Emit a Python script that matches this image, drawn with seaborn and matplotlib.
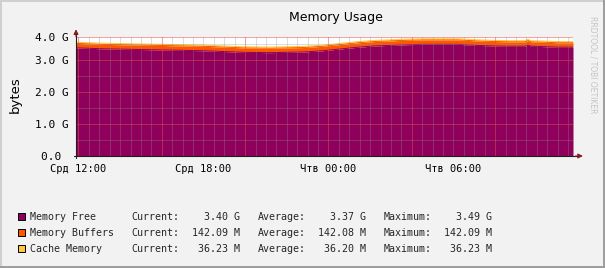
import numpy as np
import pandas as pd
import matplotlib
matplotlib.use("Agg")
import matplotlib.pyplot as plt
import seaborn as sns
from matplotlib.patches import Rectangle

# ---------------- data ----------------
hours = [-0.12, 1.18, 2.81, 4.39, 5.98, 6.79, 7.90, 9.19, 10.78, 11.74, 12.65,
         13.42, 14.24, 15.05, 15.82, 16.63, 18.22, 19.04, 19.85, 20.62, 21.43,
         21.58, 21.72, 22.25, 23.02, 23.74]
free_g = [3.38, 3.35, 3.33, 3.31, 3.29, 3.27, 3.24, 3.23, 3.25, 3.29, 3.35,
          3.40, 3.44, 3.46, 3.48, 3.49, 3.49, 3.46, 3.44, 3.43, 3.43,
          3.47, 3.43, 3.42, 3.40, 3.40]
buffers_m = [142.07, 142.07, 142.07, 142.07, 142.07, 142.08, 142.08, 142.08, 142.08, 142.08, 142.08,
             142.08, 142.08, 142.08, 142.08, 142.08, 142.08, 142.09, 142.09, 142.09, 142.09,
             142.09, 142.09, 142.09, 142.09, 142.09]
cache_m = [36.17, 36.17, 36.18, 36.18, 36.18, 36.19, 36.19, 36.19, 36.19, 36.20, 36.20,
           36.20, 36.20, 36.20, 36.20, 36.21, 36.21, 36.21, 36.21, 36.22, 36.22,
           36.22, 36.22, 36.23, 36.23, 36.23]

series_names = ["Memory Free", "Memory Buffers", "Cache Memory"]
series_colors = ["#8F005C", "#FF5700", "#FFC73B"]
current_vals = ["3.40 G", "142.09 M", "36.23 M"]
average_vals = ["3.37 G", "142.08 M", "36.20 M"]
maximum_vals = ["3.49 G", "142.09 M", "36.23 M"]

x_tick_hours = [0, 6, 12, 18]
x_tick_labels = ["Срд 12:00", "Срд 18:00", "Чтв 00:00", "Чтв 06:00"]
y_tick_values = [0.0, 1.0, 2.0, 3.0, 3.728]
y_tick_labels = ["0.0 ", "1.0 G", "2.0 G", "3.0 G", "4.0 G"]

title = "Memory Usage"
y_label = "bytes"
watermark = "RRDTOOL / TOBI OETIKER"

# ---------------- styling ----------------
sns.set_theme(style="white")
plt.rcParams["font.family"] = ["DejaVu Sans"]

W, H = 605, 268
BG = "#F2F2F2"
MONO = "DejaVu Sans Mono"
MINOR_GRID = (0.56, 0.56, 0.56, 0.30)
MAJOR_GRID = (0.87, 0.31, 0.31, 0.50)
AXIS_COL = "#1F1F1F"
ARROW_COL = "#801F1F"

def fx(px):
    return px / W

def fy(py):
    return 1 - py / H

fig = plt.figure(figsize=(W / 100, H / 100), dpi=100, facecolor=BG)

# frame shading
fig.patches.append(Rectangle((0, fy(2)), 1, 2 / H, transform=fig.transFigure, color="#CFCFCF", lw=0))
fig.patches.append(Rectangle((0, 0), 2 / W, 1, transform=fig.transFigure, color="#CFCFCF", lw=0))
fig.patches.append(Rectangle((0, 0), 1, 2 / H, transform=fig.transFigure, color="#9E9E9E", lw=0))
fig.patches.append(Rectangle((1 - 2 / W, 0), 2 / W, 1, transform=fig.transFigure, color="#9E9E9E", lw=0))

left_px, right_px, top_px, bottom_px = 76, 573, 36.7, 156
ax = fig.add_axes([fx(left_px), fy(bottom_px), fx(right_px - left_px), (bottom_px - top_px) / H])
ax.set_facecolor("white")

df = pd.DataFrame({
    "hours": hours,
    "free": np.array(free_g),
    "buffers": np.array(buffers_m) / 1024.0,
    "cache": np.array(cache_m) / 1024.0,
})
df["lvl1"] = df["free"]
df["lvl2"] = df["lvl1"] + df["buffers"]
df["lvl3"] = df["lvl2"] + df["cache"]

ax.fill_between(df["hours"], 0, df["lvl1"], color=series_colors[0], lw=0, zorder=1)
ax.fill_between(df["hours"], df["lvl1"], df["lvl2"], color=series_colors[1], lw=0, zorder=1)
ax.fill_between(df["hours"], df["lvl2"], df["lvl3"], color=series_colors[2], lw=0, zorder=1)

long = pd.concat([
    pd.DataFrame({"hours": df["hours"], "top": df[c], "series": n})
    for c, n in zip(["lvl1", "lvl2", "lvl3"], series_names)
])
sns.lineplot(data=long, x="hours", y="top", hue="series", palette=series_colors,
             hue_order=series_names, estimator=None, lw=0.7, legend=False, ax=ax, zorder=1.5)

ax.set_xlim(-0.12, 23.74)
ax.set_ylim(0, 3.728)
ax.set_xlabel("")
ax.set_ylabel("")

# grid
for h in np.arange(0, 24, 0.5):
    col = MAJOR_GRID if h % 4 == 0 else MINOR_GRID
    ax.axvline(h, color=col, lw=0.75, zorder=2.5)
for v in np.arange(0.5, 3.6, 0.5):
    col = MAJOR_GRID if v % 1 == 0 else MINOR_GRID
    ax.axhline(v, color=col, lw=0.75, zorder=2.5)
ax.axhline(3.728, color=MAJOR_GRID, lw=0.75, zorder=2.5)

for s in ax.spines.values():
    s.set_visible(False)

ax.set_xticks(x_tick_hours)
ax.set_xticklabels(x_tick_labels, fontfamily=MONO, fontsize=7.5)
ax.set_yticks(y_tick_values)
ax.set_yticklabels(y_tick_labels, fontfamily=MONO, fontsize=8)
ax.tick_params(axis="x", length=2.5, width=0.75, color=MAJOR_GRID, pad=3.5, labelcolor="black")
ax.tick_params(axis="y", length=2.5, width=0.75, color=AXIS_COL, pad=3.0, labelcolor="black")

# axis lines and arrows
ax.plot([-0.004, 1.012], [0, 0], transform=ax.transAxes, color=AXIS_COL, lw=0.8, clip_on=False, zorder=4)
ax.plot([0, 0], [-0.015, 1.03], transform=ax.transAxes, color=AXIS_COL, lw=0.8, clip_on=False, zorder=4)
ax.annotate("", xy=(1.020, 0), xytext=(1.005, 0), xycoords="axes fraction",
            arrowprops=dict(arrowstyle="-|>", color=ARROW_COL, lw=0.8, mutation_scale=7,
                            shrinkA=0, shrinkB=0), zorder=5)
ax.annotate("", xy=(0, 1.062), xytext=(0, 1.0), xycoords="axes fraction",
            arrowprops=dict(arrowstyle="-|>", color=ARROW_COL, lw=0.8, mutation_scale=7,
                            shrinkA=0, shrinkB=0), zorder=5)

# texts
fig.text(fx(335.5), fy(17), title, ha="center", va="center", fontsize=9, color="black")
fig.text(fx(15.5), fy(95), y_label, ha="center", va="center", rotation=90, fontsize=9.5, color="black")
fig.text(fx(593.5), fy(65), watermark, ha="center", va="center", rotation=270, fontsize=5.5, color="#C4C4C4")

# legend
row_y = [216.5, 232.5, 248.5]
for name, col, cur, avg, mx, y in zip(series_names, series_colors, current_vals, average_vals, maximum_vals, row_y):
    fig.patches.append(Rectangle((fx(18), fy(y + 3.5)), 7 / W, 7 / H, transform=fig.transFigure,
                                 facecolor=col, edgecolor="black", lw=0.7))
    fig.text(fx(30), fy(y), name, ha="left", va="center", fontfamily=MONO, fontsize=7.2)
    fig.text(fx(131), fy(y), "Current:", ha="left", va="center", fontfamily=MONO, fontsize=7.2)
    fig.text(fx(239.5), fy(y), cur, ha="right", va="center", fontfamily=MONO, fontsize=7.2)
    fig.text(fx(257.5), fy(y), "Average:", ha="left", va="center", fontfamily=MONO, fontsize=7.2)
    fig.text(fx(366), fy(y), avg, ha="right", va="center", fontfamily=MONO, fontsize=7.2)
    fig.text(fx(383.5), fy(y), "Maximum:", ha="left", va="center", fontfamily=MONO, fontsize=7.2)
    fig.text(fx(491.5), fy(y), mx, ha="right", va="center", fontfamily=MONO, fontsize=7.2)

fig.savefig("out.png", dpi=100, facecolor=BG)
